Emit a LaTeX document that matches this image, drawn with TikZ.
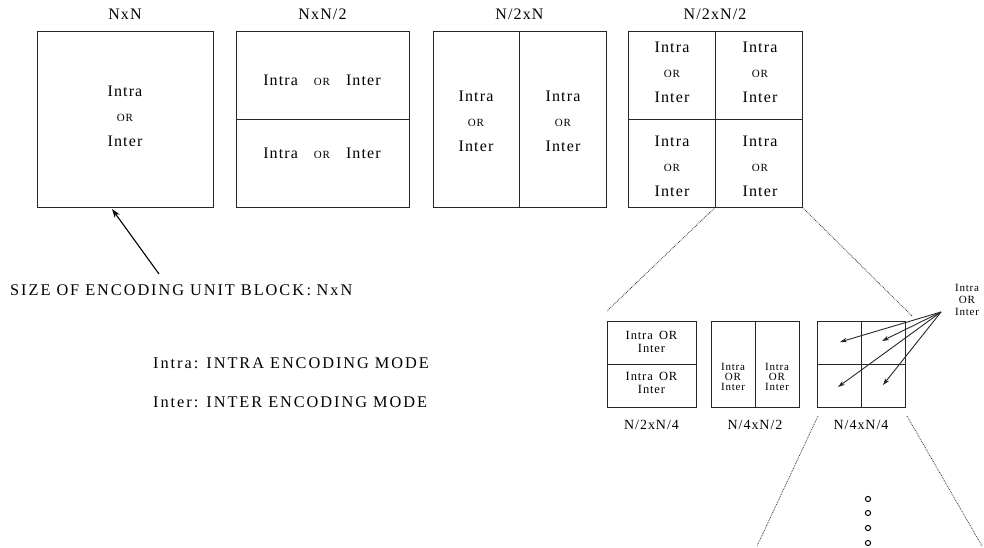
\documentclass[tikz,border=0pt]{standalone}
\usepackage{fontspec}
\setmainfont{Liberation Serif}[LetterSpace=7]
\newfontfamily\widefont{Liberation Serif}[LetterSpace=12]
\usetikzlibrary{arrows.meta}
\begin{document}
\begin{tikzpicture}[x=1pt,y=-1pt,
  blk/.style={draw=black!85, line width=1pt, rectangle, inner sep=0pt},
  div/.style={draw=black!85, line width=1pt},
  lbl/.style={font=\fontsize{16}{16}\selectfont, inner sep=0pt},
  txt/.style={font=\fontsize{16}{25}\selectfont, inner sep=0pt, align=center},
  stxt/.style={font=\fontsize{11}{10}\selectfont, inner sep=0pt, align=center},
  slbl/.style={font=\fontsize{14}{14}\selectfont, inner sep=0pt},
  note/.style={font=\widefont\fontsize{16.3}{16.3}\selectfont, inner sep=0pt, anchor=west},
  zoomln/.style={draw=black!80, line width=0.8pt, densely dotted},
  ptr/.style={draw=black, line width=1.1pt, -{Stealth[length=9pt,width=6pt]}},
  sptr/.style={draw=black!85, line width=0.9pt, -{Stealth[length=7pt,width=4.5pt]}}]
\useasboundingbox (0,0) rectangle (984,548);
\newcommand{\orw}{{\fontsize{11}{11}\selectfont OR}}
% big blocks
\node[blk, minimum width=176pt, minimum height=175pt] (b1) at (125,119.5) {};
\node[blk, minimum width=173pt, minimum height=175pt] (b2) at (322.5,119.5) {};
\node[blk, minimum width=173pt, minimum height=175pt] (b3) at (519.5,119.5) {};
\node[blk, minimum width=174pt, minimum height=175pt] (b4) at (715,119.5) {};
\draw[div] (b2.west) -- (b2.east);
\draw[div] (b3.north) -- (b3.south);
\draw[div] (b4.north) -- (b4.south);
\draw[div] (b4.west) -- (b4.east);
% titles
\node[lbl] (t1) at (125,14) {NxN};
\node[lbl] (t2) at (322.5,14) {NxN/2};
\node[lbl] (t3) at (519.5,14) {N/2xN};
\node[lbl] (t4) at (715,14) {N/2xN/2};
% texts
\node[txt] (c1) at (125,116) {Intra\\\orw\\Inter};
\node[txt] (c2a) at (322,80) {Intra\quad\orw\quad Inter};
\node[txt] (c2b) at (322,153) {Intra\quad\orw\quad Inter};
\node[txt] (c3a) at (476,121) {Intra\\\orw\\Inter};
\node[txt] (c3b) at (563,121) {Intra\\\orw\\Inter};
\node[txt] (c4a) at (672,72) {Intra\\\orw\\Inter};
\node[txt] (c4b) at (760,72) {Intra\\\orw\\Inter};
\node[txt] (c4c) at (672,166) {Intra\\\orw\\Inter};
\node[txt] (c4d) at (760,166) {Intra\\\orw\\Inter};
% pointer to NxN
\coordinate (ptail) at (159,274);
\draw[ptr] (ptail) -- (112,209);
\node[note] (size) at (10,290) {SIZE OF ENCODING UNIT BLOCK\,:\,\,NxN};
\node[note] (lintra) at (153,363) {Intra:\enspace INTRA ENCODING MODE};
\node[note] (linter) at (153,402) {Inter:\enspace INTER ENCODING MODE};
% small blocks
\node[blk, line width=0.8pt, minimum width=89pt, minimum height=86pt] (sa) at (651.5,364) {};
\node[blk, line width=0.8pt, minimum width=88pt, minimum height=86pt] (sb) at (755,364) {};
\node[blk, line width=0.8pt, minimum width=88pt, minimum height=86pt] (sc) at (861,364) {};
\draw[div, line width=0.8pt] (sa.west) -- (sa.east);
\draw[div, line width=0.8pt] (sb.north) -- (sb.south);
\draw[div, line width=0.8pt] (sc.north) -- (sc.south);
\draw[div, line width=0.8pt] (sc.west) -- (sc.east);
\node[stxt, font=\fontsize{12.5}{12.5}\selectfont] (sa1) at (651.5,342) {Intra\enspace OR\\Inter};
\node[stxt, font=\fontsize{12.5}{12.5}\selectfont] (sa2) at (651.5,383) {Intra\enspace OR\\Inter};
\node[stxt] (sb1) at (733,377) {Intra\\OR\\Inter};
\node[stxt] (sb2) at (777,377) {Intra\\OR\\Inter};
\node[slbl] (la) at (651.5,425) {N/2xN/4};
\node[slbl] (lb) at (755,425) {N/4xN/2};
\node[slbl] (lc) at (861,425) {N/4xN/4};
% zoom lines
\coordinate (za) at (607,311);
\coordinate (zc) at (912,316);
\draw[zoomln] (b4.south) -- (za);
\draw[zoomln] (b4.south east) -- (zc);
\coordinate (ya) at (757,546);
\coordinate (yc) at (982,546);
\draw[zoomln] (818,416) -- (ya);
\draw[zoomln] (907,416) -- (yc);
% intra/inter label with pointers
\node[stxt, font=\fontsize{11}{12}\selectfont] (mode) at (967,300) {Intra\\OR\\Inter};
\coordinate (src) at (941,312);
\draw[sptr] (src) -- (840,342);
\draw[sptr] (src) -- (882,341);
\draw[sptr] (src) -- (838,387);
\draw[sptr] (src) -- (883,385);
% continuation dots
\foreach \yy in {499,513,528,543}
  \draw[line width=1pt] (868,\yy) circle (2.6pt);
\end{tikzpicture}
\end{document}
